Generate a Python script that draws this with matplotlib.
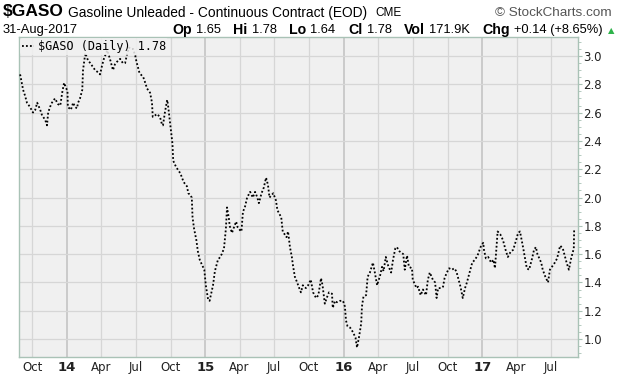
import numpy as np
import pandas as pd
import matplotlib.pyplot as plt
from matplotlib.ticker import MultipleLocator

# ==========================
# Dati $GASO
# ==========================

date = [
    "2013-08-30", "2013-09-07", "2013-09-12", "2013-09-17", "2013-09-25", "2013-10-03",
    "2013-10-09", "2013-10-14", "2013-10-22", "2013-10-27", "2013-11-04", "2013-11-09",
    "2013-11-12", "2013-11-17", "2013-11-22", "2013-11-30", "2013-12-08", "2013-12-14",
    "2013-12-19", "2013-12-24", "2014-01-02", "2014-01-03", "2014-01-11", "2014-01-17",
    "2014-01-22", "2014-01-27", "2014-01-30", "2014-02-04", "2014-02-10", "2014-02-12",
    "2014-02-18", "2014-02-25", "2014-03-03", "2014-03-11", "2014-03-16", "2014-03-21",
    "2014-03-29", "2014-04-03", "2014-04-08", "2014-04-17", "2014-04-24", "2014-05-02",
    "2014-05-07", "2014-05-13", "2014-05-21", "2014-05-28", "2014-06-03", "2014-06-08",
    "2014-06-13", "2014-06-18", "2014-06-24", "2014-06-30", "2014-07-03", "2014-07-11",
    "2014-07-21", "2014-07-25", "2014-07-31", "2014-08-08", "2014-08-13", "2014-08-15",
    "2014-08-21", "2014-08-26", "2014-09-03", "2014-09-08", "2014-09-11", "2014-09-16",
    "2014-09-22", "2014-09-24", "2014-09-30", "2014-10-06", "2014-10-08", "2014-10-13",
    "2014-10-17", "2014-10-27", "2014-11-03", "2014-11-07", "2014-11-13", "2014-11-17",
    "2014-11-21", "2014-11-26", "2014-11-28", "2014-12-02", "2014-12-08", "2014-12-12",
    "2014-12-17", "2014-12-22", "2014-12-29", "2015-01-02", "2015-01-05", "2015-01-08",
    "2015-01-12", "2015-01-16", "2015-01-21", "2015-01-26", "2015-02-03", "2015-02-09",
    "2015-02-13", "2015-02-19", "2015-02-24", "2015-02-27", "2015-03-04", "2015-03-06",
    "2015-03-12", "2015-03-16", "2015-03-23", "2015-03-27", "2015-04-02", "2015-04-06",
    "2015-04-10", "2015-04-15", "2015-04-21", "2015-04-29", "2015-05-06", "2015-05-12",
    "2015-05-18", "2015-05-22", "2015-05-29", "2015-06-04", "2015-06-10", "2015-06-15",
    "2015-06-19", "2015-06-29", "2015-07-06", "2015-07-10", "2015-07-20", "2015-07-24",
    "2015-08-03", "2015-08-07", "2015-08-12", "2015-08-17", "2015-08-20", "2015-08-25",
    "2015-08-31", "2015-09-04", "2015-09-10", "2015-09-15", "2015-09-23", "2015-09-29",
    "2015-10-06", "2015-10-12", "2015-10-20", "2015-10-26", "2015-11-02", "2015-11-06",
    "2015-11-12", "2015-11-17", "2015-11-23", "2015-12-01", "2015-12-03", "2015-12-09",
    "2015-12-14", "2015-12-22", "2015-12-30", "2016-01-04", "2016-01-07", "2016-01-11",
    "2016-01-18", "2016-01-25", "2016-02-01", "2016-02-05", "2016-02-10", "2016-02-16",
    "2016-02-18", "2016-02-22", "2016-02-29", "2016-03-04", "2016-03-10", "2016-03-18",
    "2016-03-23", "2016-03-29", "2016-04-06", "2016-04-11", "2016-04-15", "2016-04-21",
    "2016-04-27", "2016-05-05", "2016-05-10", "2016-05-16", "2016-05-20", "2016-05-27",
    "2016-06-06", "2016-06-10", "2016-06-16", "2016-06-21", "2016-06-29", "2016-07-01",
    "2016-07-11", "2016-07-15", "2016-07-22", "2016-07-28", "2016-08-05", "2016-08-10",
    "2016-08-15", "2016-08-23", "2016-08-29", "2016-09-02", "2016-09-06", "2016-09-14",
    "2016-09-19", "2016-09-23", "2016-09-29", "2016-10-05", "2016-10-13", "2016-10-18",
    "2016-10-24", "2016-10-28", "2016-11-04", "2016-11-10", "2016-11-16", "2016-11-21",
    "2016-11-28", "2016-12-05", "2016-12-12", "2016-12-19", "2016-12-27", "2017-01-03",
    "2017-01-05", "2017-01-10", "2017-01-16", "2017-01-24", "2017-01-30", "2017-02-03",
    "2017-02-08", "2017-02-10", "2017-02-17", "2017-02-24", "2017-03-03", "2017-03-09",
    "2017-03-17", "2017-03-23", "2017-03-31", "2017-04-05", "2017-04-10", "2017-04-18",
    "2017-04-24", "2017-04-28", "2017-05-04", "2017-05-12", "2017-05-17", "2017-05-22",
    "2017-05-26", "2017-06-05", "2017-06-09", "2017-06-16", "2017-06-23", "2017-06-28",
    "2017-07-06", "2017-07-11", "2017-07-17", "2017-07-25", "2017-08-01", "2017-08-07",
    "2017-08-11", "2017-08-17", "2017-08-23", "2017-08-30", "2017-08-31",
]

prezzi = [
    2.87, 2.76, 2.72, 2.67, 2.64, 2.60,
    2.62, 2.67, 2.62, 2.58, 2.55, 2.51,
    2.60, 2.64, 2.67, 2.70, 2.66, 2.65,
    2.74, 2.81, 2.75, 2.64, 2.62, 2.67,
    2.64, 2.63, 2.67, 2.70, 2.76, 2.90,
    3.02, 2.97, 2.95, 2.92, 2.90, 2.89,
    2.87, 2.93, 2.98, 3.04, 2.98, 2.90,
    2.94, 2.96, 2.98, 2.95, 2.95, 3.01,
    3.06, 3.05, 3.05, 3.00, 2.96, 2.88,
    2.85, 2.82, 2.77, 2.74, 2.67, 2.57,
    2.58, 2.59, 2.57, 2.52, 2.51, 2.60,
    2.69, 2.66, 2.52, 2.38, 2.26, 2.23,
    2.21, 2.17, 2.12, 2.10, 2.08, 2.03,
    2.02, 2.00, 1.86, 1.78, 1.70, 1.62,
    1.56, 1.53, 1.49, 1.38, 1.33, 1.28,
    1.27, 1.32, 1.38, 1.48, 1.56, 1.58,
    1.60, 1.64, 1.78, 1.93, 1.85, 1.80,
    1.75, 1.78, 1.83, 1.79, 1.77, 1.76,
    1.90, 1.93, 2.00, 2.04, 2.00, 2.04,
    2.00, 1.96, 2.03, 2.07, 2.14, 2.09,
    2.00, 2.03, 1.98, 1.91, 1.86, 1.76,
    1.72, 1.76, 1.65, 1.58, 1.52, 1.44,
    1.40, 1.37, 1.33, 1.38, 1.36, 1.38,
    1.42, 1.33, 1.29, 1.31, 1.43, 1.38,
    1.25, 1.29, 1.33, 1.32, 1.22, 1.27,
    1.26, 1.27, 1.27, 1.23, 1.13, 1.09,
    1.08, 1.05, 1.01, 0.94, 1.01, 1.11,
    1.23, 1.30, 1.31, 1.44, 1.47, 1.54,
    1.47, 1.38, 1.45, 1.51, 1.48, 1.58,
    1.52, 1.47, 1.56, 1.64, 1.65, 1.62,
    1.60, 1.49, 1.59, 1.51, 1.50, 1.42,
    1.36, 1.37, 1.31, 1.35, 1.31, 1.42,
    1.47, 1.42, 1.40, 1.29, 1.36, 1.36,
    1.37, 1.43, 1.47, 1.50, 1.49, 1.50,
    1.48, 1.44, 1.37, 1.29, 1.36, 1.40,
    1.47, 1.54, 1.56, 1.59, 1.65, 1.68,
    1.63, 1.57, 1.58, 1.54, 1.56, 1.50,
    1.68, 1.76, 1.74, 1.70, 1.63, 1.58,
    1.62, 1.63, 1.70, 1.75, 1.76, 1.65,
    1.56, 1.50, 1.49, 1.57, 1.63, 1.65,
    1.60, 1.54, 1.49, 1.44, 1.40, 1.49,
    1.52, 1.54, 1.57, 1.66, 1.64, 1.58,
    1.54, 1.49, 1.57, 1.64, 1.78,
]

# etichette asse x
tick_date = ["2013-10-01", "2014-01-01", "2014-04-01", "2014-07-01", "2014-10-01",
             "2015-01-01", "2015-04-01", "2015-07-01", "2015-10-01", "2016-01-01",
             "2016-04-01", "2016-07-01", "2016-10-01", "2017-01-01", "2017-04-01",
             "2017-07-01"]
tick_label = ["Oct", "14", "Apr", "Jul", "Oct", "15", "Apr", "Jul", "Oct", "16",
              "Apr", "Jul", "Oct", "17", "Apr", "Jul"]

df = pd.DataFrame({"Data": pd.to_datetime(date), "Prezzo": prezzi})
tick_pos = pd.to_datetime(tick_date)

# ==========================
# Grafico
# ==========================

W, H = 620, 379
fig = plt.figure(figsize=(W / 100, H / 100), dpi=100)
ax = fig.add_axes([0.0306, 0.058, 0.9016, 0.8443])
ax.set_facecolor("#f0f0f0")

bordo = "#a9c2b6"
for s in ax.spines.values():
    s.set_color(bordo)
    s.set_linewidth(1.0)
ax.spines["right"].set_linestyle((0, (1, 1)))

# griglia: anni più scuri
for d, lab in zip(tick_pos, tick_label):
    anno = lab.isdigit()
    ax.axvline(d, color="#c4c4c4" if anno else "#d6d6d6",
               lw=1.2 if anno else 0.9, zorder=0)
ax.yaxis.set_major_locator(MultipleLocator(0.2))
ax.yaxis.set_minor_locator(MultipleLocator(0.05))
ax.grid(axis="y", color="#d6d6d6", lw=0.9, zorder=0)

ax.plot(df["Data"], df["Prezzo"], color="black", lw=1.3,
        linestyle=(0, (1, 1.2)), label="$GASO (Daily) 1.78", zorder=3)

ax.set_xlim(pd.Timestamp("2013-08-27"), pd.Timestamp("2017-09-10"))
ax.set_ylim(0.873, 3.134)

ax.yaxis.tick_right()
ax.tick_params(axis="y", which="major", length=3, color=bordo, labelsize=8.5,
               pad=1, labelcolor="#222222")
ax.tick_params(axis="y", which="minor", length=2, color=bordo)
ax.set_yticks(np.arange(1.0, 3.01, 0.2))
ax.set_yticklabels([f"{v:.1f}" for v in np.arange(1.0, 3.01, 0.2)])

ax.set_xticks(tick_pos)
ax.set_xticklabels(tick_label)
ax.tick_params(axis="x", length=0, pad=3, labelsize=8.5, labelcolor="#222222")
for t in ax.get_xticklabels():
    if t.get_text().isdigit():
        t.set_fontweight("bold")
        t.set_fontsize(9.5)

# legenda in alto a sinistra
leg = ax.legend(loc="upper left", frameon=True, handlelength=1.0, handletextpad=0.4,
                borderpad=0.15, borderaxespad=0.1,
                prop={"family": "DejaVu Sans Mono", "size": 8.5})
leg.get_frame().set_facecolor("#f0f0f0")
leg.get_frame().set_edgecolor("none")
leg.get_frame().set_alpha(0.85)

# ==========================
# Intestazione (posizioni in pixel)
# ==========================

def testo(px, py, s, **kw):
    kw.setdefault("family", "Liberation Sans")
    kw.setdefault("va", "center")
    return fig.text(px / W, 1 - py / H, s, **kw)

testo(3, 12, "$GASO", fontsize=12.5, fontweight="bold")
testo(68, 13, "Gasoline Unleaded - Continuous Contract (EOD)", fontsize=9.9)
testo(375, 13, "CME", fontsize=8.5)
testo(612, 13, "© StockCharts.com", fontsize=9.7, ha="right", color="#555555")
testo(3, 30, "31-Aug-2017", fontsize=9.3)

# riga 2: etichetta in grassetto + valore, distribuiti tra x=172 e x=603
gruppi = [("Op", "1.65"), ("Hi", "1.78"), ("Lo", "1.64"), ("Cl", "1.78"),
          ("Vol", "171.9K"), ("Chg", "+0.14 (+8.65%)")]
r = fig.canvas.get_renderer()
pezzi = []
for lab, val in gruppi:
    a = testo(0, 30, lab, fontsize=10.2, fontweight="bold")
    b = testo(0, 30, val, fontsize=9.3)
    pezzi.append((a, b))
larg = sum(a.get_window_extent(r).width + b.get_window_extent(r).width for a, b in pezzi)
gap_piccolo = 4
gap_grande = (603 - 172 - larg - gap_piccolo * len(pezzi)) / (len(pezzi) - 1)
x0 = 172
for a, b in pezzi:
    a.set_x(x0 / W)
    x0 += a.get_window_extent(r).width + gap_piccolo
    b.set_x(x0 / W)
    x0 += b.get_window_extent(r).width + gap_grande
testo(611, 31, "▲", fontsize=6, ha="center", color="#2db34a", family="DejaVu Sans")

plt.savefig("out.png", dpi=100)
